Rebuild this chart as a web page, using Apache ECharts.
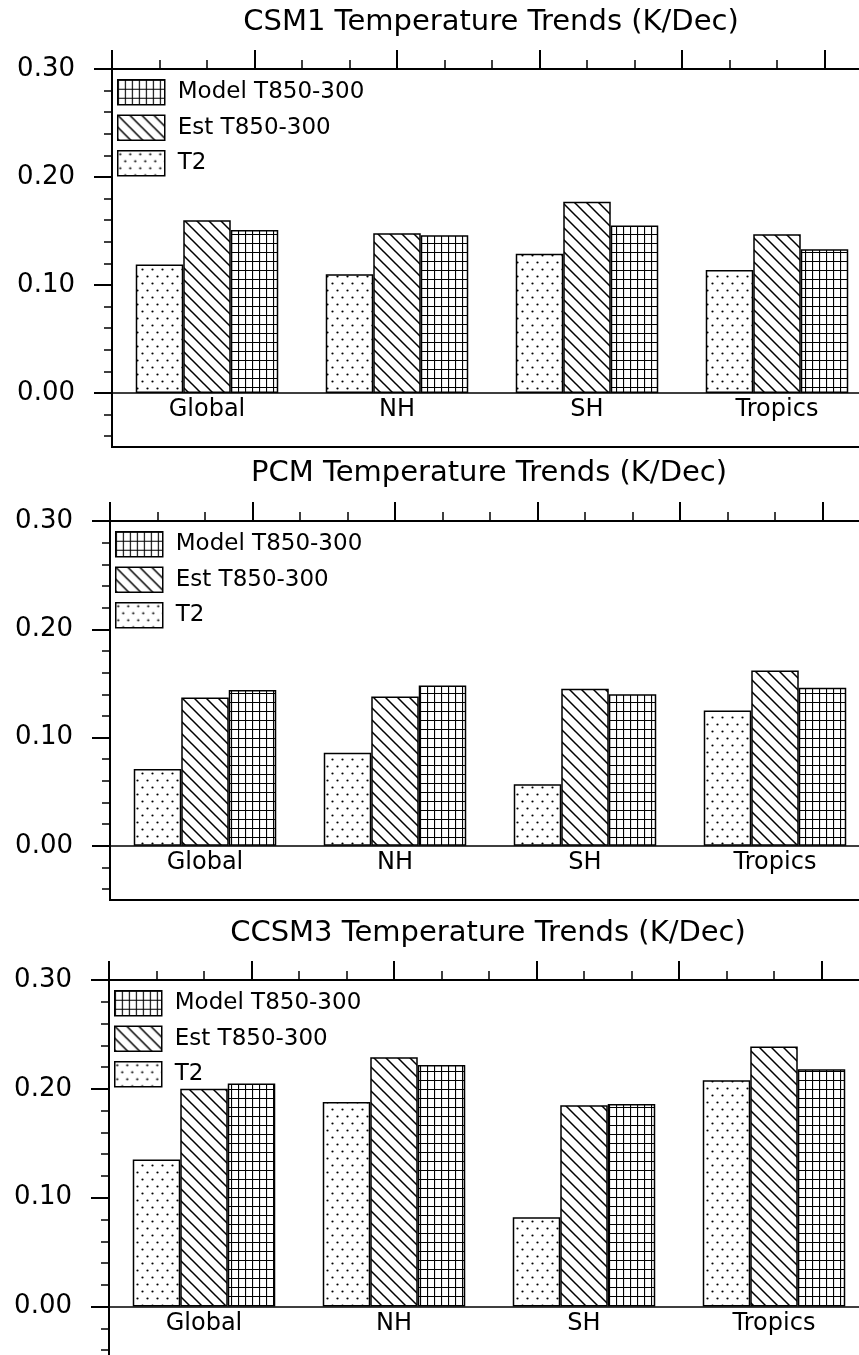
<!DOCTYPE html>
<html><head><meta charset="utf-8">
<script src="https://cdn.jsdelivr.net/npm/echarts@6/dist/echarts.min.js"></script>
<style>html,body{margin:0;padding:0;background:#fff}#c{width:859px;height:1355px}</style>
</head><body><div id="c"></div>
<script>
const categories = ['Global', 'NH', 'SH', 'Tropics'];
const seriesNames = ['T2', 'Est T850-300', 'Model T850-300'];
const legendOrder = ['Model T850-300', 'Est T850-300', 'T2'];
const panelTitles = ['CSM1 Temperature Trends (K/Dec)', 'PCM Temperature Trends (K/Dec)', 'CCSM3 Temperature Trends (K/Dec)'];
const csm1T2 = [0.119, 0.110, 0.129, 0.114];
const csm1Est = [0.160, 0.148, 0.177, 0.147];
const csm1Model = [0.151, 0.146, 0.155, 0.133];
const pcmT2 = [0.071, 0.086, 0.057, 0.125];
const pcmEst = [0.137, 0.138, 0.145, 0.162];
const pcmModel = [0.144, 0.148, 0.140, 0.146];
const ccsm3T2 = [0.135, 0.188, 0.082, 0.208];
const ccsm3Est = [0.200, 0.229, 0.185, 0.239];
const ccsm3Model = [0.205, 0.222, 0.186, 0.218];
const yMajorTicks = [0, 0.1, 0.2, 0.3];
const yMinorTicks = [-0.04, -0.02, 0.02, 0.04, 0.06, 0.08, 0.12, 0.14, 0.16, 0.18, 0.22, 0.24, 0.26, 0.28];

const panelData = [
  [csm1T2, csm1Est, csm1Model],
  [pcmT2, pcmEst, pcmModel],
  [ccsm3T2, ccsm3Est, ccsm3Model]
];

// layout
const FONT = 'DejaVu Sans';
const gridLeft = [112, 110, 109];
const gridTop = [69, 521, 980];
const gridHeight = [378, 379, 381];
const plotWidth = 760;
const titleY = [22, 473, 933];

function makeTile(w, h, draw) {
  const c = document.createElement('canvas');
  c.width = w; c.height = h;
  const g = c.getContext('2d');
  g.fillStyle = '#fff'; g.fillRect(0, 0, w, h);
  g.strokeStyle = '#000'; g.fillStyle = '#000';
  draw(g);
  return c;
}
const dotTile = makeTile(10, 14, g => {
  [[2.5, 3.5], [7.5, 10.5]].forEach(([x, y]) => {
    g.beginPath(); g.arc(x, y, 1.1, 0, Math.PI * 2); g.fill();
  });
});
const hatchTile = makeTile(12, 12, g => {
  g.lineWidth = 1.5;
  g.beginPath();
  g.moveTo(-2, -2); g.lineTo(14, 14);
  g.moveTo(-2, 10); g.lineTo(2, 14);
  g.moveTo(10, -2); g.lineTo(14, 2);
  g.stroke();
});
const gridTile = makeTile(7, 9, g => {
  g.lineWidth = 1.2;
  g.beginPath();
  g.moveTo(0.5, 0); g.lineTo(0.5, 9);
  g.moveTo(0, 0.5); g.lineTo(7, 0.5);
  g.stroke();
});
const fills = [
  { image: dotTile, repeat: 'repeat' },
  { image: hatchTile, repeat: 'repeat' },
  { image: gridTile, repeat: 'repeat' }
];

const grids = [], xAxes = [], yAxes = [], series = [], legends = [], graphics = [];
for (let i = 0; i < 3; i++) {
  grids.push({
    left: gridLeft[i], top: gridTop[i], width: plotWidth, height: gridHeight[i],
    outerBoundsMode: 'none', containLabel: false,
    show: true, borderColor: '#000', borderWidth: 2, backgroundColor: 'transparent'
  });
  xAxes.push({
    type: 'category', gridIndex: i, data: categories, position: 'bottom',
    axisLine: { show: true, onZero: true, onZeroAxisIndex: 2 * i, lineStyle: { color: '#000', width: 1.5 } },
    axisTick: { show: false },
    axisLabel: { fontFamily: FONT, fontSize: 24, color: '#000', margin: -49 },
    splitLine: { show: false }
  });
  xAxes.push({
    type: 'value', gridIndex: i, position: 'top', min: 0, max: 4, interval: 0.75,
    axisLine: { show: true, onZero: false, lineStyle: { color: '#000', width: 2 } },
    axisTick: { show: true, inside: false, length: 19, lineStyle: { color: '#000', width: 2 } },
    minorTick: { show: true, splitNumber: 3, length: 9, lineStyle: { color: '#000', width: 1.5 } },
    axisLabel: { show: false },
    splitLine: { show: false }, minorSplitLine: { show: false }
  });
  yAxes.push({
    type: 'value', gridIndex: i, position: 'left', min: -0.05, max: 0.30,
    axisLine: { show: true, onZero: false, lineStyle: { color: '#000', width: 2 } },
    axisTick: { show: true, customValues: yMajorTicks, length: 18, lineStyle: { color: '#000', width: 2 } },
    axisLabel: { customValues: yMajorTicks, formatter: v => v.toFixed(2), fontFamily: FONT, fontSize: 26, color: '#000', margin: 37 },
    splitLine: { show: false }
  });
  yAxes.push({
    type: 'value', gridIndex: i, position: 'left', min: -0.05, max: 0.30,
    axisLine: { show: false, onZero: false },
    axisTick: { show: true, customValues: yMinorTicks, length: 8, lineStyle: { color: '#000', width: 1.5 } },
    axisLabel: { show: false },
    splitLine: { show: false }
  });
  for (let s = 0; s < 3; s++) {
    series.push({
      type: 'bar', name: seriesNames[s], xAxisIndex: 2 * i, yAxisIndex: 2 * i,
      data: panelData[i][s], barGap: '0%', barCategoryGap: '25%',
      itemStyle: { color: fills[s], borderColor: '#000', borderWidth: 1.5 },
      emphasis: { disabled: true }
    });
  }
  legends.push({
    data: legendOrder, orient: 'vertical', left: gridLeft[i] + 5, top: gridTop[i] + 10,
    padding: 0, itemWidth: 47, itemHeight: 25, itemGap: 9, icon: 'rect', selectedMode: false,
    itemStyle: { borderColor: '#000', borderWidth: 1.5 },
    textStyle: { fontFamily: FONT, fontSize: 23, color: '#000', padding: [0, 0, 0, 8] }
  });
  graphics.push({
    type: 'text', x: gridLeft[i] + plotWidth / 2 - 1, y: titleY[i],
    style: { text: panelTitles[i], fontFamily: FONT, fontSize: 29, fill: '#000', textAlign: 'center', textVerticalAlign: 'middle' }
  });
}

const chart = echarts.init(document.getElementById('c'), null, { renderer: 'canvas' });
chart.setOption({
  animation: false,
  backgroundColor: '#fff',
  textStyle: { fontFamily: FONT },
  grid: grids, xAxis: xAxes, yAxis: yAxes, series: series, legend: legends,
  graphic: graphics
});
</script></body></html>
